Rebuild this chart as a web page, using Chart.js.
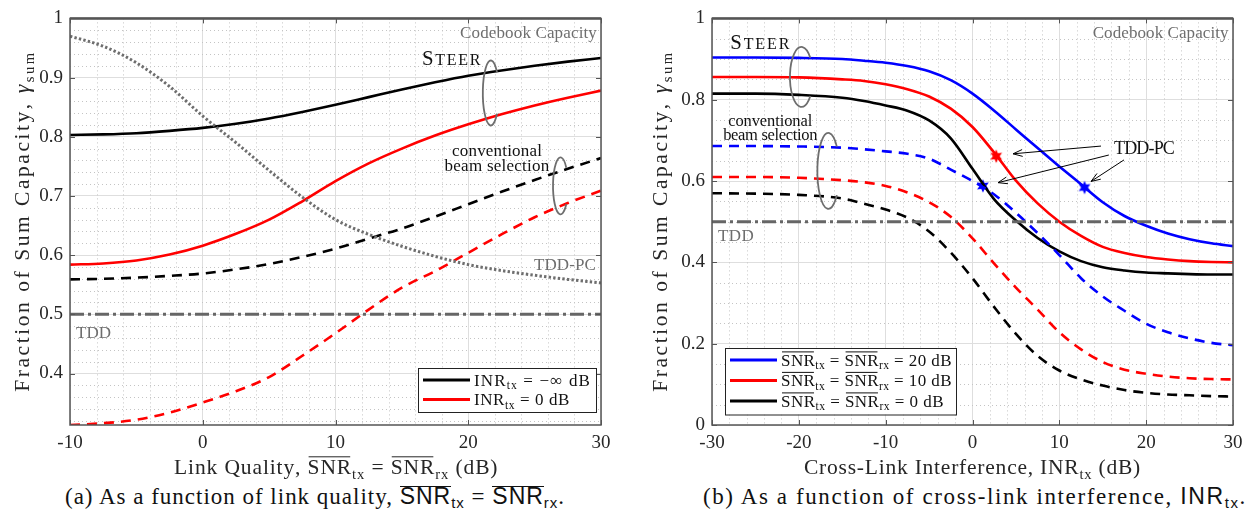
<!DOCTYPE html>
<html>
<head>
<meta charset="utf-8">
<script src="https://cdn.jsdelivr.net/npm/chart.js@4/dist/chart.umd.min.js"></script>
<style>
  body { margin: 0; background: #fff; width: 1250px; height: 525px; position: relative; overflow: hidden;
         font-family: 'Liberation Serif', 'DejaVu Serif', serif; }
  canvas { position: absolute; top: 0; }
  #chartA { left: 0; }
  #chartB { left: 630px; }
  .cap { position: absolute; top: 483px; font-size: 23px; line-height: 26px; color: #111; white-space: nowrap; }
  .sf { font-family: 'Liberation Sans', sans-serif; }
  .ov { display: inline-block; border-top: 1px solid #111; line-height: 19px; }
  .cap sub { font-size: 15px; vertical-align: -4px; line-height: 0; }
</style>
</head>
<body>
<canvas id="chartA" width="625" height="480"></canvas>
<canvas id="chartB" width="620" height="480"></canvas>
<div class="cap" id="capA" style="left:65px">(a) As a function of link quality, <span class="sf"><span class="ov">SNR</span><sub>tx</sub></span> = <span class="sf"><span class="ov">SNR</span><sub>rx</sub></span>.</div>
<div class="cap" id="capB" style="left:703px">(b) As a function of cross-link interference, <span class="sf">INR<sub>tx</sub></span>.</div>
<script>
// ---- (a) リンク品質 ----
const linkQuality = [-10, -7.5, -5, -2.5, 0, 2.5, 5, 7.5, 10, 12.5, 15, 17.5, 20, 22.5, 25, 27.5, 30];
const steerInrInf = [0.803, 0.804, 0.806, 0.810, 0.815, 0.822, 0.831, 0.842, 0.854, 0.867, 0.880, 0.892, 0.903, 0.912, 0.920, 0.927, 0.933];
const steerInr0   = [0.584, 0.586, 0.591, 0.601, 0.616, 0.636, 0.660, 0.691, 0.725, 0.755, 0.780, 0.802, 0.821, 0.838, 0.853, 0.866, 0.878];
const convInrInf  = [0.559, 0.560, 0.562, 0.565, 0.569, 0.576, 0.585, 0.597, 0.611, 0.628, 0.645, 0.665, 0.686, 0.707, 0.727, 0.746, 0.764];
const convInr0    = [0.313, 0.316, 0.322, 0.334, 0.351, 0.370, 0.394, 0.430, 0.468, 0.508, 0.545, 0.573, 0.604, 0.635, 0.664, 0.688, 0.709];
const tddPcA      = [0.970, 0.953, 0.925, 0.885, 0.835, 0.790, 0.743, 0.698, 0.660, 0.635, 0.615, 0.598, 0.584, 0.574, 0.566, 0.559, 0.553];
const tddXA = [-10, 30];
const tddYA = [0.5, 0.5];
const xTicksA = [-10, 0, 10, 20, 30];
const yTicksA = [0.4, 0.5, 0.6, 0.7, 0.8, 0.9, 1];

// ---- (b) クロスリンク干渉 ----
const inrTx = [-30, -25, -20, -15, -12.5, -10, -7.5, -5, -2.5, 0, 2.5, 5, 7.5, 10, 12.5, 15, 17.5, 20, 22.5, 25, 27.5, 30];
const steer20 = [0.904, 0.904, 0.903, 0.900, 0.896, 0.891, 0.883, 0.870, 0.848, 0.815, 0.773, 0.727, 0.681, 0.636, 0.592, 0.548, 0.514, 0.490, 0.471, 0.457, 0.447, 0.440];
const steer10 = [0.856, 0.856, 0.855, 0.850, 0.846, 0.838, 0.826, 0.808, 0.778, 0.733, 0.670, 0.601, 0.545, 0.500, 0.465, 0.438, 0.423, 0.413, 0.407, 0.403, 0.401, 0.400];
const steer0  = [0.815, 0.815, 0.812, 0.805, 0.797, 0.786, 0.773, 0.749, 0.705, 0.630, 0.555, 0.503, 0.460, 0.427, 0.403, 0.388, 0.380, 0.375, 0.373, 0.371, 0.370, 0.370];
const conv20  = [0.686, 0.686, 0.685, 0.682, 0.678, 0.673, 0.667, 0.655, 0.628, 0.600, 0.567, 0.522, 0.472, 0.418, 0.361, 0.316, 0.281, 0.249, 0.228, 0.213, 0.202, 0.196];
const conv10  = [0.610, 0.610, 0.608, 0.602, 0.597, 0.588, 0.572, 0.548, 0.512, 0.459, 0.397, 0.338, 0.284, 0.228, 0.186, 0.155, 0.136, 0.126, 0.119, 0.115, 0.113, 0.112];
const conv0   = [0.570, 0.569, 0.566, 0.557, 0.544, 0.530, 0.510, 0.476, 0.424, 0.361, 0.290, 0.224, 0.170, 0.134, 0.112, 0.097, 0.086, 0.079, 0.075, 0.073, 0.071, 0.070];
const starX = [12.9, 2.73, 1.2];
const starY = [0.584, 0.661, 0.588];
const starColor = ['#0000ff', '#ff0000', '#0000ff'];
const tddXB = [-30, 30];
const tddYB = [0.5, 0.5];
const xTicksB = [-30, -20, -10, 0, 10, 20, 30];
const yTicksB = [0, 0.2, 0.4, 0.6, 0.8, 1];

const SERIF = "'Liberation Serif', 'DejaVu Serif', serif";
const AXIS = '#555';
const BLUE = '#0000ff', RED = '#ff0000', BLACK = '#000000', GRAY = '#6e6e6e';

function pts(xs, ys) {
  return xs.map((x, i) => ({ x: x, y: ys[i] }));
}

// 添字・上線つきの文字列を描く (fit があれば字間で幅を合わせる)
function drawRich(ctx, segs, x, y, size, align, color, fit) {
  const parts = segs.map(s => {
    const seg = typeof s === 'string' ? { t: s } : s;
    const fs = size * (seg.sub ? 0.68 : (seg.k || 1));
    const font = (seg.it ? 'italic ' : '') + fs + 'px ' + SERIF;
    ctx.font = font;
    return { seg, fs, font, w: ctx.measureText(seg.t).width };
  });
  const natural = parts.reduce((a, p) => a + p.w, 0);
  const nChars = parts.reduce((a, p) => a + p.seg.t.length, 0);
  const ls = fit ? (fit - natural) / nChars : 0;
  const total = natural + ls * nChars;
  let cx = align === 'center' ? x - total / 2 : (align === 'right' ? x - total : x);
  ctx.save();
  ctx.textAlign = 'left';
  ctx.textBaseline = 'alphabetic';
  ctx.fillStyle = color;
  ctx.strokeStyle = color;
  parts.forEach(p => {
    ctx.font = p.font;
    const dy = p.seg.sub ? size * 0.22 : 0;
    const x0 = cx;
    for (const ch of p.seg.t) {
      ctx.fillText(ch, cx, y + dy);
      cx += ctx.measureText(ch).width + ls;
    }
    if (p.seg.over) {
      ctx.lineWidth = 1;
      ctx.beginPath();
      ctx.moveTo(x0 + 1, y - size * 0.8);
      ctx.lineTo(cx - ls - 1, y - size * 0.8);
      ctx.stroke();
    }
  });
  ctx.restore();
  return total;
}

function hexagram(color) {
  const c = document.createElement('canvas');
  c.width = 16; c.height = 16;
  const g = c.getContext('2d');
  g.fillStyle = color;
  g.beginPath();
  for (let i = 0; i < 12; i++) {
    const r = i % 2 === 0 ? 6.8 : 3.4;
    const a = -Math.PI / 2 + i * Math.PI / 6;
    const px = 8 + r * Math.cos(a), py = 8 + r * Math.sin(a);
    if (i === 0) g.moveTo(px, py); else g.lineTo(px, py);
  }
  g.closePath();
  g.fill();
  return c;
}

function ellipseArc(ctx, cx, cy, rx, ry) {
  ctx.save();
  ctx.strokeStyle = GRAY;
  ctx.lineWidth = 1.8;
  ctx.beginPath();
  ctx.ellipse(cx, cy, rx, ry, 0, -Math.PI * 0.22, Math.PI * 0.22, true);
  ctx.stroke();
  ctx.restore();
}

function arrow(ctx, x1, y1, x2, y2) {
  const ang = Math.atan2(y2 - y1, x2 - x1);
  ctx.save();
  ctx.strokeStyle = '#000';
  ctx.lineWidth = 1;
  ctx.beginPath();
  ctx.moveTo(x1, y1);
  ctx.lineTo(x2, y2);
  ctx.moveTo(x2 - 10 * Math.cos(ang - 0.35), y2 - 10 * Math.sin(ang - 0.35));
  ctx.lineTo(x2, y2);
  ctx.lineTo(x2 - 10 * Math.cos(ang + 0.35), y2 - 10 * Math.sin(ang + 0.35));
  ctx.stroke();
  ctx.restore();
}

function legendBox(ctx, left, top, w, rowH, rows) {
  const h = rows.length * rowH + 5;
  ctx.save();
  ctx.fillStyle = '#fff';
  ctx.fillRect(left, top, w, h);
  ctx.strokeStyle = '#222';
  ctx.lineWidth = 1;
  ctx.strokeRect(left + 0.5, top + 0.5, w, h);
  rows.forEach((r, i) => {
    const cy = top + 12 + i * rowH;
    ctx.strokeStyle = r.color;
    ctx.lineWidth = 3;
    ctx.beginPath();
    ctx.moveTo(left + 5, cy);
    ctx.lineTo(left + 52, cy);
    ctx.stroke();
    drawRich(ctx, r.label, left + 56, cy + 5.5, 17, 'left', '#111', r.fit);
  });
  ctx.restore();
}

const yTitle = ['Fraction of Sum Capacity, ', { t: 'γ', it: true }, { t: 'sum', sub: true }];
const smallCaps = [{ t: 'S', k: 1.3 }, { t: 'TEER' }];

// 図ごとの装飾
const extras = {
  chartA: {
    minorX: [], minorY: [],
    xTicks: xTicksA, yTicks: yTicksA,
    yTitleX: 22, xTitleFit: 323, yTitleFit: 340,
    xTitle: ['Link Quality, ', { t: 'SNR', over: true }, { t: 'tx', sub: true }, ' = ', { t: 'SNR', over: true }, { t: 'rx', sub: true }, ' (dB)'],
    annotate(ctx, P) {
      let p = P(29.7, 0.977);
      drawRich(ctx, ['Codebook Capacity'], p[0], p[1] + 5.5, 17, 'right', GRAY, 137);
      p = P(21.04, 0.921);
      drawRich(ctx, smallCaps, p[0], p[1], 16, 'right', '#111', 60);
      p = P(21.7, 0.874);
      ellipseArc(ctx, p[0], p[1], 8, 32.5);
      p = P(22.17, 0.776);
      drawRich(ctx, ['conventional'], p[0], p[1] + 5.5, 17, 'center', '#111', 90);
      p = P(22.17, 0.751);
      drawRich(ctx, ['beam selection'], p[0], p[1] + 5.5, 17, 'center', '#111', 105);
      p = P(26.95, 0.717);
      ellipseArc(ctx, p[0], p[1], 7.5, 28.5);
      p = P(29.62, 0.584);
      drawRich(ctx, ['TDD-PC'], p[0], p[1] + 5.5, 17, 'right', GRAY, 62);
      p = P(-9.55, 0.47);
      drawRich(ctx, ['TDD'], p[0], p[1] + 5.5, 17, 'left', GRAY, 35);
    },
    legend(ctx, a) {
      legendBox(ctx, a.right - 183, a.bottom - 57, 178, 19.5, [
        { color: BLACK, fit: 117, label: ['INR', { t: 'tx', sub: true }, ' = −∞ dB'] },
        { color: RED, fit: 96, label: ['INR', { t: 'tx', sub: true }, ' = 0 dB'] }
      ]);
    }
  },
  chartB: {
    minorX: [], minorY: [],
    xTicks: xTicksB, yTicks: yTicksB,
    yTitleX: 30, xTitleFit: 337, yTitleFit: 340,
    xTitle: ['Cross-Link Interference, INR', { t: 'tx', sub: true }, ' (dB)'],
    annotate(ctx, P) {
      let p = P(29.5, 0.966);
      drawRich(ctx, ['Codebook Capacity'], p[0], p[1] + 5.5, 17, 'right', GRAY, 136);
      p = P(-27.9, 0.925);
      drawRich(ctx, smallCaps, p[0], p[1], 16, 'left', '#111', 61);
      p = P(-19.7, 0.856);
      ellipseArc(ctx, p[0], p[1], 11.5, 30);
      p = P(-23.3, 0.749);
      drawRich(ctx, ['conventional'], p[0], p[1] + 5.5, 16.5, 'center', '#111', 84);
      p = P(-23.3, 0.715);
      drawRich(ctx, ['beam selection'], p[0], p[1] + 5.5, 16.5, 'center', '#111', 94);
      p = P(-16.6, 0.625);
      ellipseArc(ctx, p[0], p[1], 11, 38);
      p = P(-29.3, 0.465);
      drawRich(ctx, ['TDD'], p[0], p[1] + 5.5, 17, 'left', GRAY, 36);
      p = P(16.3, 0.681);
      drawRich(ctx, ['TDD-PC'], p[0], p[1] + 6, 18, 'left', '#111', 60);
      // 矢印
      const arrows = [[14.8, 0.686, 4.67, 0.667], [15.7, 0.664, 2.94, 0.596], [17.45, 0.652, 13.65, 0.599]];
      arrows.forEach(ar => {
        const t = P(ar[0], ar[1]), h = P(ar[2], ar[3]);
        arrow(ctx, t[0], t[1], h[0], h[1]);
      });
    },
    legend(ctx, a) {
      const bar = { t: 'SNR', over: true };
      legendBox(ctx, a.left + 13, a.bottom - 77, 231, 20.5, [
        { color: BLUE, fit: 171, label: [bar, { t: 'tx', sub: true }, ' = ', bar, { t: 'rx', sub: true }, ' = 20 dB'] },
        { color: RED, fit: 171, label: [bar, { t: 'tx', sub: true }, ' = ', bar, { t: 'rx', sub: true }, ' = 10 dB'] },
        { color: BLACK, fit: 163, label: [bar, { t: 'tx', sub: true }, ' = ', bar, { t: 'rx', sub: true }, ' = 0 dB'] }
      ]);
    }
  }
};

// 補助グリッド (点線) の位置
for (let v = -8; v < 30; v += 2) if (v % 10 !== 0) extras.chartA.minorX.push(v);
for (let k = 16; k < 50; k++) if (k % 5 !== 0) extras.chartA.minorY.push(k * 0.02);
for (let v = -28; v < 30; v += 2) if (v % 10 !== 0) extras.chartB.minorX.push(v);
for (let k = 1; k < 20; k++) if (k % 4 !== 0) extras.chartB.minorY.push(k * 0.05);

const decorPlugin = {
  id: 'decor',
  beforeDatasetsDraw(chart) {
    const ex = extras[chart.canvas.id];
    const { ctx, chartArea: a, scales: { x, y } } = chart;
    ctx.save();
    ctx.strokeStyle = '#c4c4c4';
    ctx.lineWidth = 1;
    ctx.setLineDash([1, 3]);
    ex.minorX.forEach(v => {
      const px = Math.round(x.getPixelForValue(v)) + 0.5;
      ctx.beginPath(); ctx.moveTo(px, a.top); ctx.lineTo(px, a.bottom); ctx.stroke();
    });
    ex.minorY.forEach(v => {
      const py = Math.round(y.getPixelForValue(v)) + 0.5;
      ctx.beginPath(); ctx.moveTo(a.left, py); ctx.lineTo(a.right, py); ctx.stroke();
    });
    ctx.restore();
  },
  afterDatasetsDraw(chart) {
    const ex = extras[chart.canvas.id];
    const { ctx, scales: { x, y } } = chart;
    const P = (vx, vy) => [x.getPixelForValue(vx), y.getPixelForValue(vy)];
    ex.annotate(ctx, P);
  },
  afterDraw(chart) {
    const ex = extras[chart.canvas.id];
    const { ctx, chartArea: a, scales: { x, y } } = chart;
    ctx.save();
    // 内向きの目盛り
    ctx.strokeStyle = AXIS;
    ctx.lineWidth = 1;
    ex.xTicks.forEach(v => {
      const px = Math.round(x.getPixelForValue(v)) + 0.5;
      ctx.beginPath();
      ctx.moveTo(px, a.bottom); ctx.lineTo(px, a.bottom - 5);
      ctx.moveTo(px, a.top); ctx.lineTo(px, a.top + 5);
      ctx.stroke();
    });
    ex.yTicks.forEach(v => {
      const py = Math.round(y.getPixelForValue(v)) + 0.5;
      ctx.beginPath();
      ctx.moveTo(a.left, py); ctx.lineTo(a.left + 5, py);
      ctx.moveTo(a.right, py); ctx.lineTo(a.right - 5, py);
      ctx.stroke();
    });
    // 枠
    ctx.lineWidth = 1.5;
    ctx.strokeRect(a.left, a.top, a.right - a.left, a.bottom - a.top);
    ctx.lineWidth = 2.5;
    ctx.beginPath(); ctx.moveTo(a.left, a.top); ctx.lineTo(a.right, a.top); ctx.stroke();
    ctx.restore();

    ex.legend(ctx, a);

    // 軸タイトル
    drawRich(ctx, ex.xTitle, (a.left + a.right) / 2, 474, 21.5, 'center', '#262626', ex.xTitleFit);
    ctx.save();
    ctx.translate(ex.yTitleX, (a.top + a.bottom) / 2);
    ctx.rotate(-Math.PI / 2);
    drawRich(ctx, yTitle, 0, 7, 21.5, 'center', '#262626', ex.yTitleFit);
    ctx.restore();
  }
};

function lineSet(xs, ys, color, opt) {
  return Object.assign({
    data: pts(xs, ys),
    borderColor: color,
    borderWidth: 2.6,
    pointRadius: 0,
    fill: false,
    cubicInterpolationMode: 'monotone'
  }, opt || {});
}

function axisOptions(xMin, xMax, yMin, yMax, xTicks, yTicks, yWidth) {
  const tickFont = { family: SERIF, size: 19 };
  return {
    x: {
      type: 'linear', min: xMin, max: xMax,
      afterBuildTicks: s => { s.ticks = xTicks.map(v => ({ value: v })); },
      afterFit: s => { s.height = 55; },
      grid: { color: '#dedede', lineWidth: 1, drawTicks: false },
      border: { display: false },
      ticks: { font: tickFont, color: '#262626', padding: 7, maxRotation: 0, callback: v => String(v) }
    },
    y: {
      type: 'linear', min: yMin, max: yMax,
      afterBuildTicks: s => { s.ticks = yTicks.map(v => ({ value: v })); },
      afterFit: s => { s.width = yWidth; },
      grid: { color: '#dedede', lineWidth: 1, drawTicks: false },
      border: { display: false },
      ticks: { font: tickFont, color: '#262626', padding: 7, callback: v => String(v) }
    }
  };
}

const commonPlugins = { legend: { display: false }, tooltip: { enabled: false } };

// キャプションの幅を参照図に合わせる
function fitCaption(id, target) {
  const el = document.getElementById(id);
  const w = el.getBoundingClientRect().width;
  const n = el.textContent.length;
  el.style.letterSpacing = ((target - w) / n).toFixed(2) + 'px';
}

function build() {
  fitCaption('capA', 500);
  fitCaption('capB', 544);

  // (a) のグラフ
  new Chart(document.getElementById('chartA'), {
    type: 'line',
    data: {
      datasets: [
        lineSet(tddXA, tddYA, '#666666', { borderWidth: 3, borderDash: [14, 4, 3, 4], cubicInterpolationMode: 'default' }),
        lineSet(linkQuality, tddPcA, '#6e6e6e', { borderWidth: 3, borderDash: [2.4, 2.2] }),
        lineSet(linkQuality, convInrInf, BLACK, { borderDash: [10, 7] }),
        lineSet(linkQuality, convInr0, RED, { borderDash: [10, 7] }),
        lineSet(linkQuality, steerInrInf, BLACK),
        lineSet(linkQuality, steerInr0, RED)
      ]
    },
    options: {
      responsive: false,
      animation: false,
      devicePixelRatio: 1,
      layout: { padding: { top: 14, right: 24, left: 0, bottom: 0 } },
      plugins: commonPlugins,
      scales: axisOptions(-10, 30, 0.313, 1, xTicksA, yTicksA, 70)
    },
    plugins: [decorPlugin]
  });

  // (b) のグラフ
  new Chart(document.getElementById('chartB'), {
    type: 'line',
    data: {
      datasets: [
        lineSet(tddXB, tddYB, '#666666', { borderWidth: 3, borderDash: [14, 4, 3, 4], cubicInterpolationMode: 'default' }),
        lineSet(inrTx, conv20, BLUE, { borderDash: [10, 7] }),
        lineSet(inrTx, conv10, RED, { borderDash: [10, 7] }),
        lineSet(inrTx, conv0, BLACK, { borderDash: [10, 7] }),
        lineSet(inrTx, steer20, BLUE),
        lineSet(inrTx, steer10, RED),
        lineSet(inrTx, steer0, BLACK),
        {
          data: pts(starX, starY),
          showLine: false,
          pointStyle: starColor.map(hexagram),
          pointRadius: 7,
          borderWidth: 0
        }
      ]
    },
    options: {
      responsive: false,
      animation: false,
      devicePixelRatio: 1,
      layout: { padding: { top: 14, right: 17, left: 0, bottom: 0 } },
      plugins: commonPlugins,
      scales: axisOptions(-30, 30, 0, 1, xTicksB, yTicksB, 82)
    },
    plugins: [decorPlugin]
  });
}

document.fonts.load("19px 'Liberation Serif'").then(build, build);
</script>
</body>
</html>
